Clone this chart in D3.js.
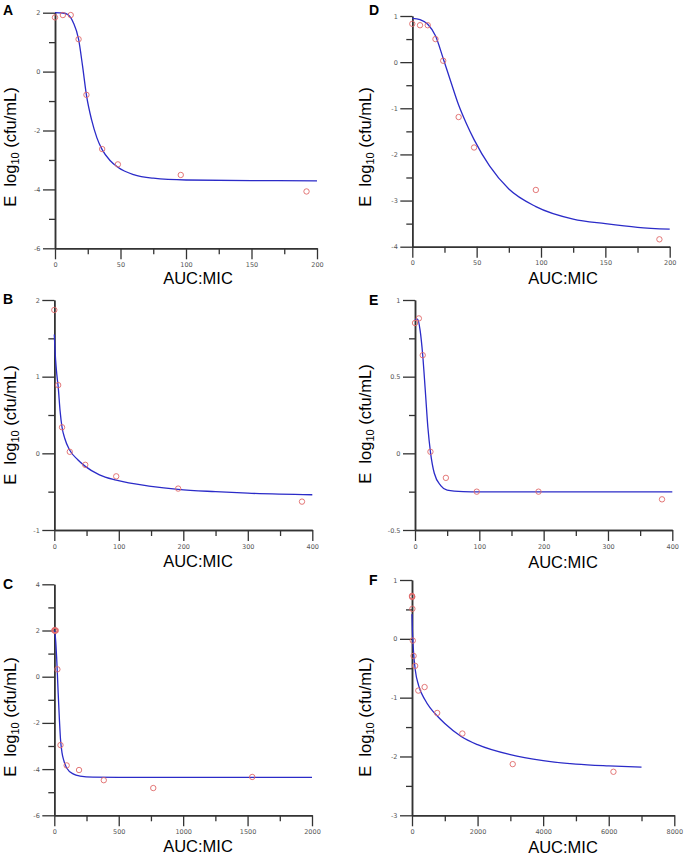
<!DOCTYPE html>
<html>
<head>
<meta charset="utf-8">
<script src="https://cdn.jsdelivr.net/npm/d3@7"></script>
<style>
  body { margin: 0; background: #fff; }
  text { white-space: pre; }
</style>
</head>
<body>
<div id="chart"></div>
<script>
// measured points (AUC:MIC vs E)
const doseA = [0, 6, 12, 18, 24, 36, 48, 96, 192];
const effA = [1.84, 1.92, 1.92, 1.1, -0.79, -2.63, -3.15, -3.51, -4.07];
const doseD = [0, 6, 12, 18, 24, 36, 48, 96, 192];
const effD = [0.83, 0.80, 0.80, 0.50, 0.03, -1.19, -1.85, -2.77, -3.84];
const doseB = [0, 6, 12, 24, 48, 96, 192, 384];
const effB = [1.87, 0.89, 0.34, 0.02, -0.15, -0.30, -0.46, -0.63];
const doseE = [0, 6, 12, 24, 48, 96, 192, 384];
const effE = [0.85, 0.88, 0.64, 0.01, -0.16, -0.25, -0.25, -0.30];
const doseC = [0, 3, 6, 12, 24, 48, 96, 192, 384, 768, 1536];
const effC = [2.0, 2.02, 1.99, 2.0, 0.32, -2.96, -3.84, -4.04, -4.48, -4.82, -4.34];
const doseF = [0, 3, 6, 12, 24, 48, 96, 192, 384, 768, 1536, 3072, 6144];
const effF = [0.73, 0.72, 0.71, 0.51, -0.03, -0.29, -0.46, -0.88, -0.82, -1.26, -1.61, -2.13, -2.26];

// fitted curves
const fitXA = [0, 6, 10, 14, 18, 21, 24, 28, 32, 36, 42, 48, 60, 75, 100, 150, 200];
const fitYA = [2.0, 1.99, 1.93, 1.66, 1.1, 0.2, -0.8, -1.65, -2.25, -2.65, -3.02, -3.25, -3.5, -3.62, -3.68, -3.70, -3.71];
const fitXD = [0, 6, 12, 18, 24, 30, 36, 42, 48, 60, 75, 96, 125, 150, 175, 200];
const fitYD = [0.95, 0.92, 0.82, 0.57, 0.08, -0.43, -0.93, -1.33, -1.68, -2.25, -2.75, -3.13, -3.40, -3.50, -3.58, -3.62];
const fitXB = [0, 2, 4, 6, 9, 12, 16, 24, 36, 48, 70, 96, 150, 192, 250, 300, 400];
const fitYB = [1.55, 1.22, 1.02, 0.87, 0.55, 0.34, 0.2, 0.04, -0.08, -0.17, -0.28, -0.35, -0.43, -0.47, -0.5, -0.52, -0.54];
const fitXE = [0, 4, 8, 12, 16, 20, 24, 30, 40, 50, 75, 100, 200, 400];
const fitYE = [0.87, 0.875, 0.8, 0.64, 0.41, 0.17, 0.01, -0.13, -0.21, -0.24, -0.25, -0.252, -0.252, -0.252];
const fitXC = [0, 6, 12, 18, 24, 30, 40, 48, 60, 75, 96, 150, 200, 300, 500, 2000];
const fitYC = [2.0, 1.85, 1.45, 0.85, 0.1, -0.7, -1.9, -2.7, -3.3, -3.65, -3.95, -4.22, -4.3, -4.35, -4.36, -4.36];
const fitXF = [0, 12, 25, 50, 100, 200, 400, 800, 1000, 1500, 2000, 3000, 4000, 5000, 6000, 7000];
const fitYF = [0.42, 0.15, -0.02, -0.25, -0.53, -0.79, -1.04, -1.33, -1.44, -1.66, -1.80, -1.97, -2.07, -2.13, -2.16, -2.18];

// axis ticks (labelled)
const xTicksA = [0, 50, 100, 150, 200];
const yTicksA = [-6, -4, -2, 0, 2];
const xTicksD = [0, 50, 100, 150, 200];
const yTicksD = [-4, -3, -2, -1, 0, 1];
const xTicksB = [0, 100, 200, 300, 400];
const yTicksB = [-1, 0, 1, 2];
const xTicksE = [0, 100, 200, 300, 400];
const yTicksE = [-0.5, 0, 0.5, 1];
const xTicksC = [0, 500, 1000, 1500, 2000];
const yTicksC = [-6, -4, -2, 0, 2, 4];
const xTicksF = [0, 2000, 4000, 6000, 8000];
const yTicksF = [-3, -2, -1, 0, 1];

const panelLetters = ['A', 'D', 'B', 'E', 'C', 'F'];

// page layout for each panel
const layout = {
  A: { l: 55, r: 317, t: 12.7, b: 248.3, lx: 3, ly: 15, yl: 16, ylc: 147, xlc: 198, xlb: 284 },
  D: { l: 412.3, r: 669.7, t: 16, b: 246.7, lx: 369, ly: 15, yl: 371, ylc: 147, xlc: 563, xlb: 284 },
  B: { l: 54.3, r: 312.3, t: 300, b: 530, lx: 3, ly: 304, yl: 16, ylc: 425, xlc: 198, xlb: 567 },
  E: { l: 415, r: 672.3, t: 300, b: 530, lx: 369, ly: 305, yl: 371, ylc: 424, xlc: 563, xlb: 568 },
  C: { l: 54.3, r: 312, t: 584.3, b: 815.3, lx: 3, ly: 589, yl: 16, ylc: 717, xlc: 198, xlb: 852 },
  F: { l: 412, r: 674.3, t: 580, b: 815.3, lx: 369, ly: 585, yl: 371, ylc: 717, xlc: 563, xlb: 853 }
};

const panels = {
  A: { dose: doseA, eff: effA, fx: fitXA, fy: fitYA, xt: xTicksA, yt: yTicksA },
  D: { dose: doseD, eff: effD, fx: fitXD, fy: fitYD, xt: xTicksD, yt: yTicksD },
  B: { dose: doseB, eff: effB, fx: fitXB, fy: fitYB, xt: xTicksB, yt: yTicksB },
  E: { dose: doseE, eff: effE, fx: fitXE, fy: fitYE, xt: xTicksE, yt: yTicksE },
  C: { dose: doseC, eff: effC, fx: fitXC, fy: fitYC, xt: xTicksC, yt: yTicksC },
  F: { dose: doseF, eff: effF, fx: fitXF, fy: fitYF, xt: xTicksF, yt: yTicksF }
};

const svg = d3.select('#chart')
  .append('svg')
  .attr('width', 686)
  .attr('height', 857);

// halfway points between labelled ticks
function minorTicks(ticks) {
  const out = [];
  for (let i = 0; i < ticks.length - 1; i++) out.push((ticks[i] + ticks[i + 1]) / 2);
  return out;
}

function styleAxis(g) {
  g.selectAll('.domain').attr('stroke', '#333').attr('stroke-width', 1.5);
  g.selectAll('.tick line').attr('stroke', '#333').attr('stroke-width', 1.3);
  g.selectAll('.tick text')
    .attr('fill', '#555')
    .style('font-family', 'DejaVu Sans, sans-serif')
    .style('font-size', '6.5px');
}

function drawPanel(key) {
  const p = panels[key];
  const L = layout[key];
  const xt = p.xt, yt = p.yt;

  const x = d3.scaleLinear().domain([xt[0], xt[xt.length - 1]]).range([L.l, L.r]);
  const y = d3.scaleLinear().domain([yt[0], yt[yt.length - 1]]).range([L.b, L.t]);

  const g = svg.append('g').attr('class', `panel-${key}`);

  // minor ticks
  g.append('g')
    .attr('transform', `translate(0,${L.b})`)
    .call(d3.axisBottom(x).tickValues(minorTicks(xt)).tickSize(6).tickSizeOuter(0).tickFormat(''))
    .call(styleAxis);
  g.append('g')
    .attr('transform', `translate(${L.l},0)`)
    .call(d3.axisLeft(y).tickValues(minorTicks(yt)).tickSize(6).tickSizeOuter(0).tickFormat(''))
    .call(styleAxis);

  // labelled ticks
  g.append('g')
    .attr('transform', `translate(0,${L.b})`)
    .call(d3.axisBottom(x).tickValues(xt).tickSize(11).tickSizeOuter(0).tickPadding(3).tickFormat(d => String(d)))
    .call(styleAxis);
  g.append('g')
    .attr('transform', `translate(${L.l},0)`)
    .call(d3.axisLeft(y).tickValues(yt).tickSize(12).tickSizeOuter(0).tickPadding(2.5).tickFormat(d => String(d)))
    .call(styleAxis);

  // fitted curve
  const line = d3.line()
    .x(d => x(d[0]))
    .y(d => y(d[1]))
    .curve(d3.curveMonotoneX);

  g.append('path')
    .datum(p.fx.map((v, i) => [v, p.fy[i]]))
    .attr('d', line)
    .attr('fill', 'none')
    .attr('stroke', '#2b2bc8')
    .attr('stroke-width', 1.3);

  // observed points
  g.selectAll('circle.obs')
    .data(p.dose.map((v, i) => [v, p.eff[i]]))
    .enter()
    .append('circle')
    .attr('class', 'obs')
    .attr('cx', d => x(d[0]))
    .attr('cy', d => y(d[1]))
    .attr('r', 2.7)
    .attr('fill', 'none')
    .attr('stroke', '#e06a6a')
    .attr('stroke-width', 0.9);

  // panel letter
  g.append('text')
    .attr('x', L.lx)
    .attr('y', L.ly)
    .text(key)
    .style('font-family', 'Liberation Sans, Arial, sans-serif')
    .style('font-weight', 'bold')
    .style('font-size', '14px');

  // x label
  g.append('text')
    .attr('x', L.xlc)
    .attr('y', L.xlb)
    .attr('text-anchor', 'middle')
    .text('AUC:MIC')
    .style('font-family', 'Liberation Sans, Arial, sans-serif')
    .style('font-size', '16.5px');

  // y label
  const yl = g.append('text')
    .attr('transform', `translate(${L.yl},${L.ylc}) rotate(-90)`)
    .attr('text-anchor', 'middle')
    .style('font-family', 'Liberation Sans, Arial, sans-serif')
    .style('font-size', '16.5px');
  yl.append('tspan').text('E  log');
  yl.append('tspan').attr('dy', 3).style('font-size', '11px').text('10');
  yl.append('tspan').attr('dy', -3).text(' (cfu/mL)');
}

panelLetters.forEach(drawPanel);
</script>
</body>
</html>
